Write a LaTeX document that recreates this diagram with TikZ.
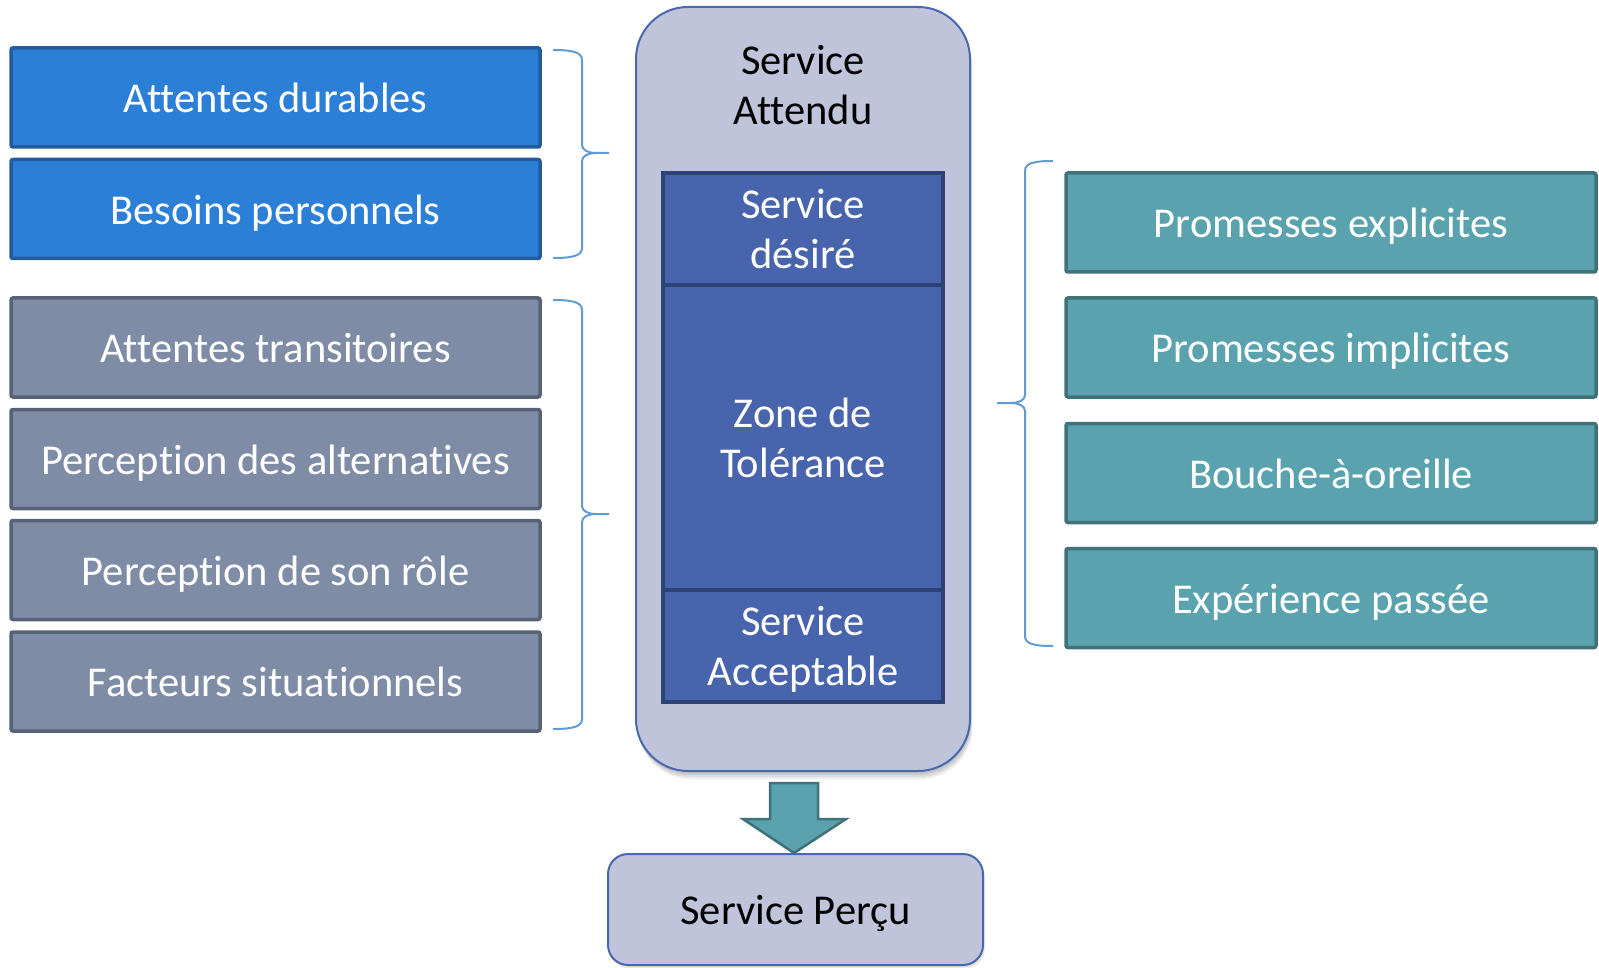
\documentclass[tikz,border=0pt]{standalone}
\usepackage{fontspec}
\setmainfont{Carlito}[Ligatures=NoCommon]
\usetikzlibrary{shadows}

\definecolor{durable}{RGB}{43,127,214}
\definecolor{durableline}{RGB}{32,92,158}
\definecolor{transit}{RGB}{127,140,166}
\definecolor{transitline}{RGB}{88,98,118}
\definecolor{promise}{RGB}{90,163,174}
\definecolor{promiseline}{RGB}{64,114,122}
\definecolor{outerfill}{RGB}{192,196,219}
\definecolor{outerline}{RGB}{72,104,176}
\definecolor{innerfill}{RGB}{71,100,172}
\definecolor{innerline}{RGB}{46,66,118}
\definecolor{bracecol}{RGB}{95,155,212}

\begin{document}
\begin{tikzpicture}[x=1pt,y=-1pt,
  txt/.style={font=\fontsize{42.5}{50}\selectfont, align=center, inner sep=0pt, text depth=0pt},
  factor/.style={txt, draw, line width=3.5pt, rounded corners=2pt, text height=30.4pt,
                 minimum width=529pt, minimum height=99pt, text=white},
  durablebox/.style={factor, fill=durable, draw=durableline},
  transitbox/.style={factor, fill=transit, draw=transitline},
  promisebox/.style={factor, fill=promise, draw=promiseline, minimum width=530pt},
  zonebox/.style={txt, draw=innerline, fill=innerfill, line width=3.5pt,
                  minimum width=280pt, text=white},
  curly/.style={draw=bracecol, line width=2pt, line join=round},
  softshadow/.style={fill=black, opacity=0.07, draw=none}
]
\useasboundingbox (0,0) rectangle (1599,968);

% soft shadow under the expected-service column
\foreach \d in {2,4,6,8}
  \fill[softshadow, rounded corners=52pt] (636+\d*0.3,7+\d) rectangle (970+\d*0.3,771+\d);
% expected service column
\node[draw=outerline, fill=outerfill, line width=2pt, rounded corners=52pt,
      minimum width=334pt, minimum height=764pt, inner sep=0pt] (attendu) at (803,389) {};
\node[txt] (attenduLabel) at (803,85) {Service\\Attendu};

% zones inside the column
\node[zonebox, minimum height=112pt] (desire) at (803,229) {Service\\désiré};
\node[zonebox, minimum height=305pt] (zone) at (803,437.5) {Zone de\\Tolérance};
\node[zonebox, minimum height=112pt] (acceptable) at (803,646) {Service\\Acceptable};

% factors on the left
\node[durablebox] (durables) at (275.5,97.5) {Attentes durables};
\node[durablebox] (besoins) at (275.5,209) {Besoins personnels};
\node[transitbox] (transitoires) at (275.5,347.5) {Attentes transitoires};
\node[transitbox] (alternatives) at (275.5,459) {Perception des alternatives};
\node[transitbox] (role) at (275.5,570) {Perception de son rôle};
\node[transitbox] (situation) at (275.5,681.5) {Facteurs situationnels};

% factors on the right
\node[promisebox] (explicites) at (1331,222.5) {Promesses explicites};
\node[promisebox] (implicites) at (1331,347.5) {Promesses implicites};
\node[promisebox] (bouche) at (1331,473) {Bouche-à-oreille};
\node[promisebox] (experience) at (1331,598) {Expérience passée};

% curly braces grouping the factors
\draw[curly] (553,50) .. controls (572,50) and (582,52) .. (582,60) -- (582,145)
   .. controls (582,150) and (588,153) .. (596,153) -- (609,153)
   (596,153) .. controls (588,153) and (582,156) .. (582,161) -- (582,248)
   .. controls (582,256) and (572,258) .. (553,258);
\draw[curly] (553,300) .. controls (572,300) and (582,302) .. (582,310) -- (582,506)
   .. controls (582,511) and (588,514) .. (596,514) -- (609,514)
   (596,514) .. controls (588,514) and (582,517) .. (582,522) -- (582,719)
   .. controls (582,727) and (572,729) .. (553,729);
\draw[curly] (1053,161) .. controls (1034,161) and (1025,163) .. (1025,171) -- (1025,395)
   .. controls (1025,400) and (1019,403) .. (1011,403) -- (997,403)
   (1011,403) .. controls (1019,403) and (1025,406) .. (1025,411) -- (1025,636)
   .. controls (1025,644) and (1034,646) .. (1053,646);

% perceived service
\foreach \d in {2,4}
  \fill[softshadow, rounded corners=20pt] (608+\d*0.5,854+\d) rectangle (983+\d*0.5,965+\d);
\node[draw=outerline, fill=outerfill, line width=2pt, rounded corners=20pt,
      minimum width=375pt, minimum height=111pt, txt] (percu) at (795.5,909.5) {Service Perçu};

% block arrow from the column to the perceived service
\draw[fill=promise, draw=promiseline, line width=2.5pt, line join=miter]
  (770,783) -- (818,783) -- (818,819) -- (846,819) -- (percu.north -| 794,0)
  -- (743,819) -- (770,819) -- cycle;
\end{tikzpicture}
\end{document}
